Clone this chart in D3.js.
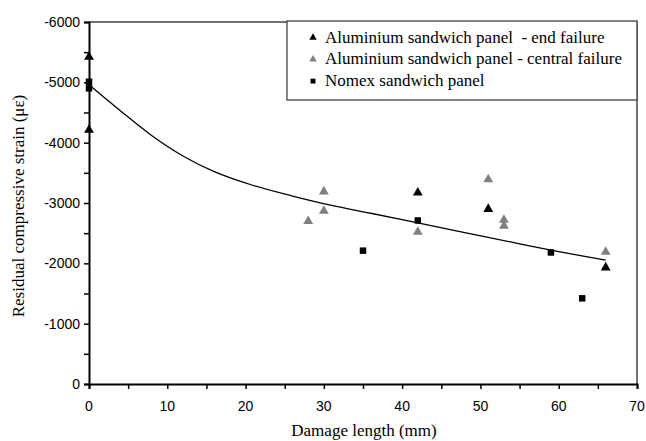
<!DOCTYPE html>
<html>
<head>
<meta charset="utf-8">
<script src="https://cdn.jsdelivr.net/npm/d3@7"></script>
<style>
  html, body { margin: 0; padding: 0; background: #fff; }
  svg { display: block; }
  .tick-label { font-family: "Liberation Sans", Arial, sans-serif; font-size: 14px; fill: #000; }
  .serif-label { font-family: "Liberation Serif", "Times New Roman", Times, serif; font-size: 17px; fill: #000; }
</style>
</head>
<body>
<svg id="chart" width="646" height="441"></svg>
<script>
// Aluminium sandwich panels failing at the end
const endFailX = [0, 0, 42, 51, 66];
const endFailY = [-5420, -4210, -3170, -2900, -1930];

// Aluminium sandwich panels failing centrally
const centralFailX = [28, 30, 30, 42, 51, 53, 53, 66];
const centralFailY = [-2700, -2870, -3190, -2520, -3390, -2720, -2620, -2190];

// Nomex sandwich panels
const nomexX = [0, 0, 35, 42, 59, 63];
const nomexY = [-5010, -4900, -2210, -2710, -2180, -1420];

// Trend curve through the results
const trendX = [0, 4, 8, 12, 16, 21, 26, 31, 36, 42, 48, 54, 60, 66];
const trendY = [-4960, -4530, -4120, -3780, -3520, -3290, -3115, -2960, -2830, -2670, -2510, -2350, -2195, -2055];

const xTicks = [0, 10, 20, 30, 40, 50, 60, 70];
const yTicks = [0, -1000, -2000, -3000, -4000, -5000, -6000];

const legendLabels = [
  "Aluminium sandwich panel  - end failure",
  "Aluminium sandwich panel - central failure",
  "Nomex sandwich panel"
];

const svg = d3.select("#chart");
const plotL = 89, plotR = 637, plotT = 22, plotB = 384;

const x = d3.scaleLinear().domain([0, 70]).range([plotL, plotR]);
const y = d3.scaleLinear().domain([0, -6000]).range([plotB, plotT]);

// Plot frame: top and right edges
svg.append("path")
  .attr("d", `M${plotL},${plotT}H${plotR}V${plotB}`)
  .attr("fill", "none")
  .attr("stroke", "#444")
  .attr("stroke-width", 1.5);

// X axis
const xAxis = svg.append("g")
  .attr("transform", `translate(0,${plotB})`)
  .call(d3.axisBottom(x).tickValues(d3.range(0, 71, 5)).tickSize(5).tickFormat(""));
xAxis.select(".domain").attr("stroke", "#000").attr("stroke-width", 2);
xAxis.selectAll(".tick line").attr("stroke", "#000").attr("stroke-width", 1.5);

svg.append("g").selectAll("text")
  .data(xTicks)
  .join("text")
  .attr("class", "tick-label")
  .attr("x", d => x(d))
  .attr("y", 411)
  .attr("text-anchor", "middle")
  .text(d => d);

// Y axis
const yAxis = svg.append("g")
  .attr("transform", `translate(${plotL},0)`)
  .call(d3.axisLeft(y).tickValues(d3.range(0, -6001, -500)).tickSize(5).tickFormat(""));
yAxis.select(".domain").attr("stroke", "#000").attr("stroke-width", 2);
yAxis.selectAll(".tick line").attr("stroke", "#000").attr("stroke-width", 1.5);

svg.append("g").selectAll("text")
  .data(yTicks)
  .join("text")
  .attr("class", "tick-label")
  .attr("x", 80)
  .attr("y", d => y(d) + 5)
  .attr("text-anchor", "end")
  .text(d => d);

// Axis titles
svg.append("text")
  .attr("class", "serif-label")
  .attr("x", 364)
  .attr("y", 436)
  .attr("text-anchor", "middle")
  .text("Damage length (mm)");

svg.append("text")
  .attr("class", "serif-label")
  .attr("transform", "translate(24,206) rotate(-90)")
  .attr("text-anchor", "middle")
  .text("Residual compressive strain (\u03bc\u03b5)");

// Trend curve
const trend = trendX.map((d, i) => [d, trendY[i]]);
svg.append("path")
  .datum(trend)
  .attr("fill", "none")
  .attr("stroke", "#000")
  .attr("stroke-width", 1.3)
  .attr("d", d3.line().x(d => x(d[0])).y(d => y(d[1])).curve(d3.curveCatmullRom));

// Markers
const triangle = d3.symbol().type(d3.symbolTriangle).size(42);
const square = d3.symbol().type(d3.symbolSquare).size(42);

svg.append("g").selectAll("path")
  .data(centralFailX.map((d, i) => [d, centralFailY[i]]))
  .join("path")
  .attr("transform", d => `translate(${x(d[0])},${y(d[1])})`)
  .attr("d", triangle)
  .attr("fill", "#808080");

svg.append("g").selectAll("path")
  .data(nomexX.map((d, i) => [d, nomexY[i]]))
  .join("path")
  .attr("transform", d => `translate(${x(d[0])},${y(d[1])})`)
  .attr("d", square)
  .attr("fill", "#000");

svg.append("g").selectAll("path")
  .data(endFailX.map((d, i) => [d, endFailY[i]]))
  .join("path")
  .attr("transform", d => `translate(${x(d[0])},${y(d[1])})`)
  .attr("d", triangle)
  .attr("fill", "#000");

// Legend
const legend = svg.append("g");
legend.append("rect")
  .attr("x", 287).attr("y", 21)
  .attr("width", plotR - 287).attr("height", 79)
  .attr("fill", "#fff")
  .attr("stroke", "#444")
  .attr("stroke-width", 1.3);

const legendSymbols = [
  { shape: d3.symbolTriangle, color: "#000" },
  { shape: d3.symbolTriangle, color: "#808080" },
  { shape: d3.symbolSquare, color: "#000" }
];

legendLabels.forEach((label, i) => {
  const cy = 37.5 + i * 21.8;
  legend.append("path")
    .attr("transform", `translate(313,${cy})`)
    .attr("d", d3.symbol().type(legendSymbols[i].shape).size(24))
    .attr("fill", legendSymbols[i].color);
  legend.append("text")
    .attr("class", "serif-label")
    .attr("x", 325)
    .attr("y", cy + 5)
    .style("white-space", "pre")
    .text(label);
});
</script>
</body>
</html>
